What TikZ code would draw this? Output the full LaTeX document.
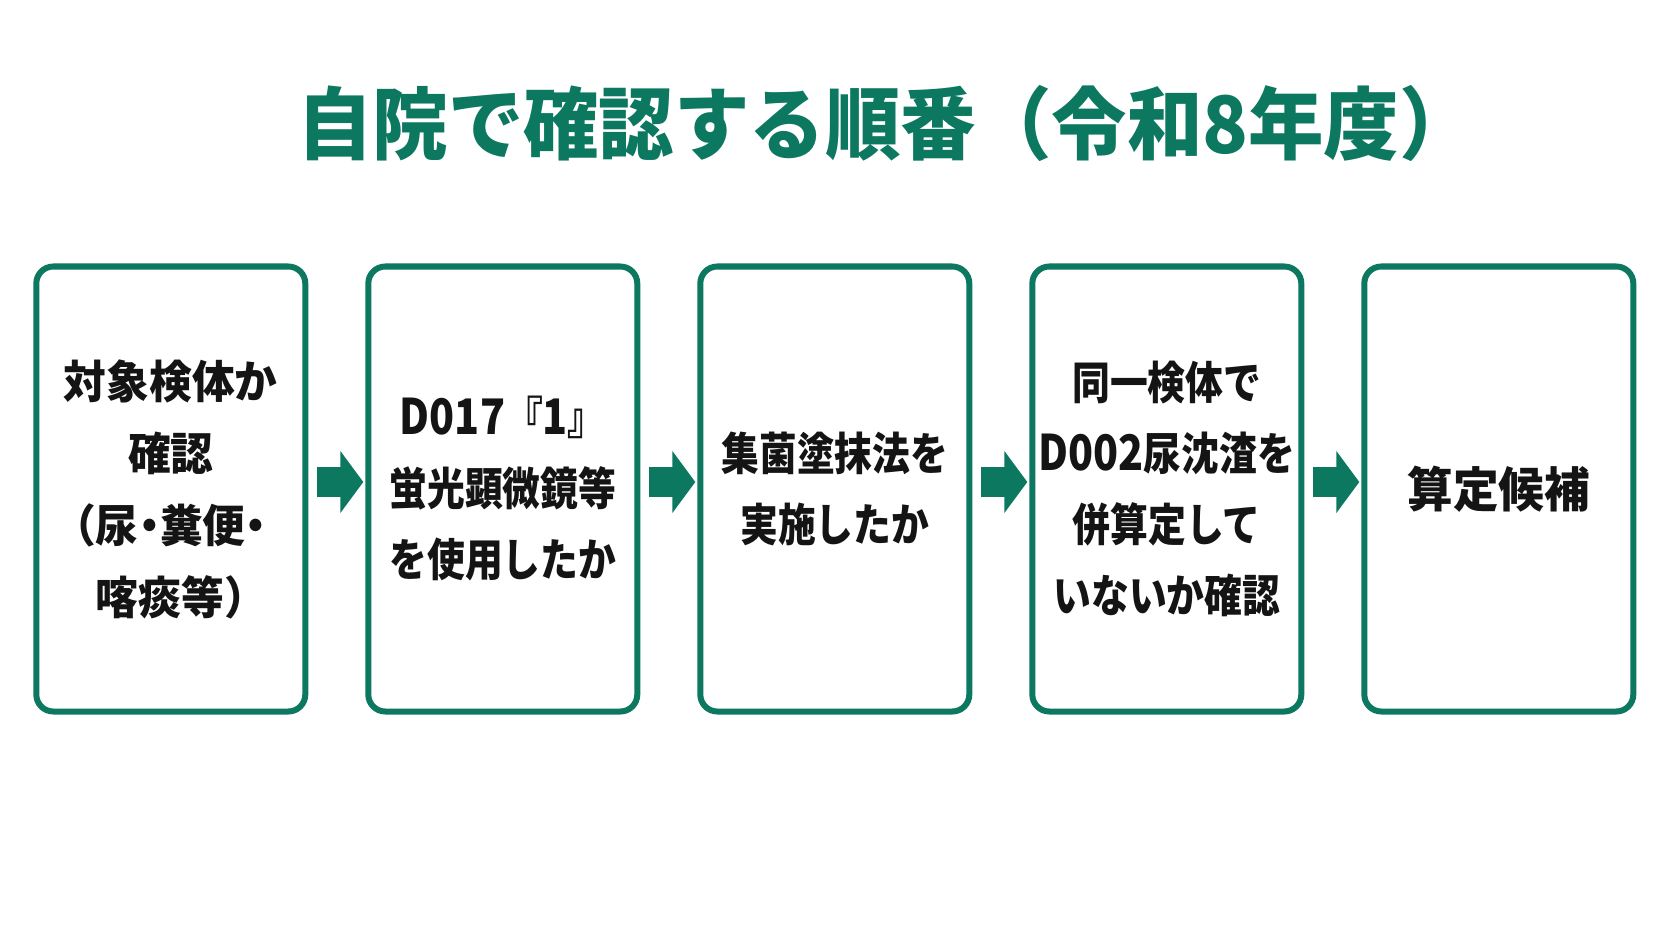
\documentclass[tikz,border=0pt]{standalone}
\usepackage{fontspec}
\newfontfamily\titlefont{Noto Sans CJK JP}[FakeStretch=0.955]
\newfontfamily\boxfont{Noto Sans CJK JP}[FakeStretch=0.84]
\newfontfamily\boxwide{Noto Sans CJK JP}[FakeStretch=0.95,RawFeature=+halt]
\newcommand\bigcode[1]{{\fontsize{49}{71}\selectfont #1}}
\usetikzlibrary{arrows.meta,calc}
\definecolor{brandgreen}{RGB}{12,120,96}
\definecolor{ink}{RGB}{20,20,20}
\begin{document}
\begin{tikzpicture}[x=1pt,y=-1pt,
  stepbox/.style={draw=brandgreen, line width=6pt, rounded corners=17pt,
    minimum width=269pt, minimum height=445pt, outer sep=0pt, inner sep=0pt,
    align=center, text=ink, font=\boxfont\bfseries\fontsize{45}{71}\selectfont},
  flowarrow/.style={draw=brandgreen, line width=30pt,
    -{Triangle[length=23pt,width=61pt]}},
  titletext/.style={text=brandgreen, font=\titlefont\bfseries\fontsize{79}{86}\selectfont, inner sep=0pt}
]
\useasboundingbox (0,0) rectangle (1672,941);
\fill[white] (0,0) rectangle (1672,941);

\node[titletext] (title) at (886,123) {自院で確認する順番（令和8年度）};

\node[stepbox, font=\boxwide\bfseries\fontsize{45}{72}\selectfont] (b1) at (170.8,489) {対象検体か\\確認\\（尿・糞便・\\喀痰等）};
\node[stepbox] (b2) at (502.8,489) {\bigcode{D017}『\bigcode{1}』\\蛍光顕微鏡等\\を使用したか};
\node[stepbox] (b3) at (834.8,489) {集菌塗抹法を\\実施したか};
\node[stepbox] (b4) at (1166.8,489) {同一検体で\\\bigcode{D002}尿沈渣を\\併算定して\\いないか確認};
\node[stepbox, font=\boxwide\bfseries\fontsize{48}{71}\selectfont] (b5) at (1498.8,489) {算定候補};

\draw[flowarrow] ($(b1.east)+(12,-7)$) -- ($(b2.west)+(-5,-7)$);
\draw[flowarrow] ($(b2.east)+(12,-7)$) -- ($(b3.west)+(-5,-7)$);
\draw[flowarrow] ($(b3.east)+(12,-7)$) -- ($(b4.west)+(-5,-7)$);
\draw[flowarrow] ($(b4.east)+(12,-7)$) -- ($(b5.west)+(-5,-7)$);
\end{tikzpicture}
\end{document}
